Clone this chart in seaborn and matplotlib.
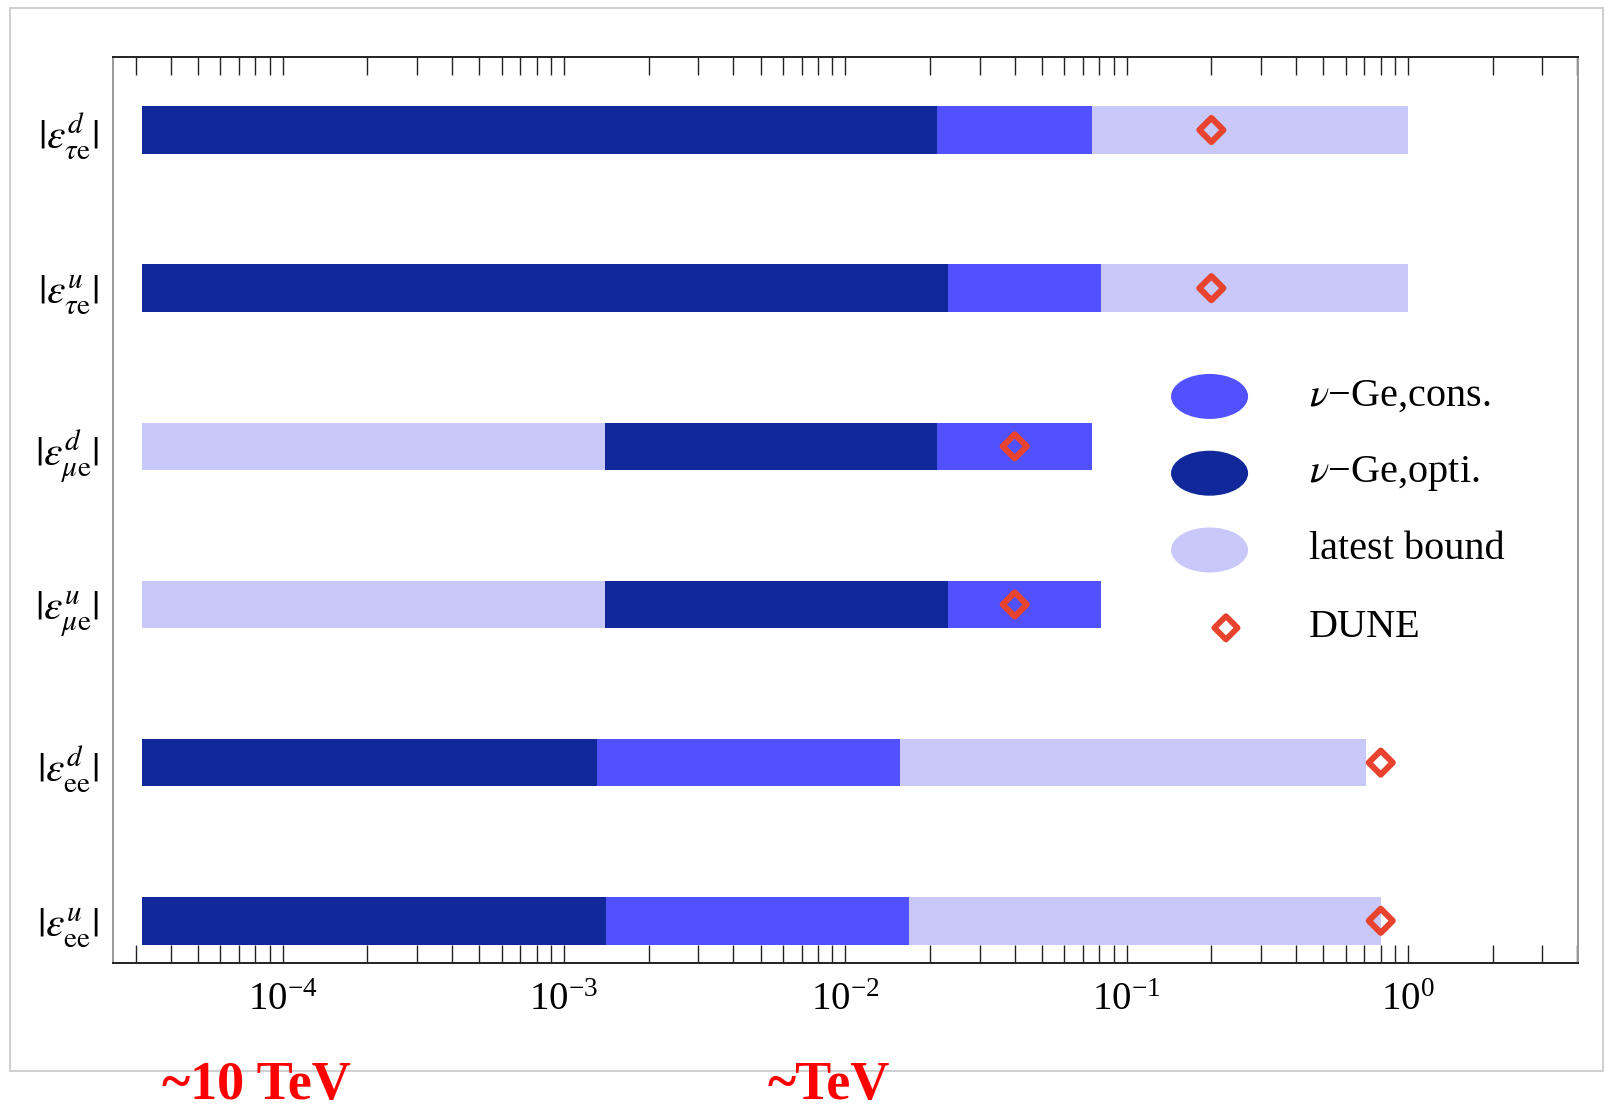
import numpy as np
import pandas as pd
import matplotlib
matplotlib.use("Agg")
import matplotlib.pyplot as plt
import seaborn as sns
from matplotlib.patches import Ellipse, Rectangle
from matplotlib.ticker import LogLocator, NullFormatter, LogFormatterSciNotation

# NSI couplings, listed from the top row to the bottom row
couplings = [
    r"$|\varepsilon^{d}_{\tau\mathrm{e}}|$",
    r"$|\varepsilon^{u}_{\tau\mathrm{e}}|$",
    r"$|\varepsilon^{d}_{\mu\mathrm{e}}|$",
    r"$|\varepsilon^{u}_{\mu\mathrm{e}}|$",
    r"$|\varepsilon^{d}_{\mathrm{ee}}|$",
    r"$|\varepsilon^{u}_{\mathrm{ee}}|$",
]
ge_cons = [0.0752, 0.0811, 0.0752, 0.0811, 0.0156, 0.0168]
ge_opti = [0.0212, 0.0231, 0.0212, 0.0231, 0.00131, 0.00141]
latest_bound = [1.0, 1.0, 0.00140, 0.00140, 0.707, 0.80]
dune = [0.20, 0.20, 0.040, 0.040, 0.80, 0.80]
bar_start = 3.16e-5

series_names = [r"$\nu$" + "\u2212Ge,cons.", r"$\nu$" + "\u2212Ge,opti.", "latest bound"]
series_colors = ["#5151FF", "#10289A", "#C8C8FA"]
dune_color = "#E8432E"

sns.set_theme(style="ticks")
plt.rcParams["font.family"] = ["Liberation Serif", "DejaVu Serif"]
plt.rcParams["mathtext.fontset"] = "stix"
plt.rcParams["text.color"] = "black"
plt.rcParams["xtick.labelcolor"] = "black"
plt.rcParams["ytick.labelcolor"] = "black"

W, H = 1606, 1110
fig = plt.figure(figsize=(W / 100, H / 100), dpi=100)
fig.patch.set_facecolor("white")

# outer panel frame
fig.add_artist(Rectangle((9.6 / W, 1 - 1070.7 / H), (1603 - 9.6) / W, (1070.7 - 7.8) / H,
                         transform=fig.transFigure, fill=False,
                         edgecolor="#cccccc", lw=1.3))

ax_l, ax_r, ax_t, ax_b = 113.3, 1578.3, 57.4, 962.7
ax = fig.add_axes([ax_l / W, 1 - ax_b / H, (ax_r - ax_l) / W, (ax_b - ax_t) / H])
ax.set_facecolor("white")

n = len(couplings)
ypos = np.arange(n)[::-1]  # top row gets the largest y

df = pd.DataFrame({
    "coupling": couplings, "y": ypos,
    "cons": ge_cons, "opti": ge_opti, "latest": latest_bound,
    "DUNE": dune,
})

bar_h = 0.30
for _, row in df.iterrows():
    vals = [(row[s], c) for s, c in zip(["cons", "opti", "latest"], series_colors)]
    # widest segment at the back, narrower ones stacked on top
    for k, (v, c) in enumerate(sorted(vals, key=lambda t: -t[0])):
        ax.barh(row["y"], v - bar_start, left=bar_start, height=bar_h,
                color=c, edgecolor="none", zorder=2 + k)

sns.scatterplot(data=df, x="DUNE", y="y", ax=ax, marker="D", s=150,
                color=dune_color, facecolor="none", edgecolor=dune_color,
                linewidth=4.4, zorder=10, legend=False)

ax.set_xscale("log")
ax.set_xlim(2.5e-5, 4.03)
ax.set_ylim(-0.265, n - 1 + 0.459)

ax.set_yticks(ypos)
ax.set_yticklabels(couplings, fontsize=30)
ax.tick_params(axis="y", length=0, pad=10)

ax.xaxis.set_major_locator(LogLocator(base=10, numticks=20))
ax.xaxis.set_minor_locator(LogLocator(base=10, subs=np.arange(2, 10), numticks=50))
ax.xaxis.set_major_formatter(LogFormatterSciNotation())
ax.xaxis.set_minor_formatter(NullFormatter())
ax.tick_params(axis="x", which="both", direction="in", length=13, width=1.0,
               color="#222222", top=True, bottom=True, labeltop=False)
ax.tick_params(axis="x", which="major", labelsize=28, pad=14)
ax.set_xlabel("")
ax.set_ylabel("")

for side in ("top", "bottom"):
    ax.spines[side].set_color("#222222")
    ax.spines[side].set_linewidth(1.4)
for side in ("left", "right"):
    ax.spines[side].set_color("#999999")
    ax.spines[side].set_linewidth(1.4)

# legend drawn in axes-fraction coordinates
leg_x, txt_x = 0.7483, 0.8162
leg_y = [0.6255, 0.5407, 0.4559, 0.3699]
for name, c, yy in zip(series_names, series_colors, leg_y[:3]):
    ax.add_patch(Ellipse((leg_x, yy), 0.0526, 0.0497, transform=ax.transAxes,
                         facecolor=c, edgecolor="none", zorder=20))
    ax.text(txt_x, yy, name, transform=ax.transAxes, fontsize=29,
            va="center", ha="left", zorder=20)
ax.scatter([leg_x + 0.0112], [leg_y[3]], transform=ax.transAxes, marker="D", s=140,
           facecolor="none", edgecolor=dune_color, linewidth=4.2, zorder=20)
ax.text(txt_x, leg_y[3], "DUNE", transform=ax.transAxes, fontsize=29,
        va="center", ha="left", zorder=20)

# energy-scale annotations under the panel
fig.text(256 / W, 1 - 1086 / H, "~10 TeV", color="red", fontsize=39,
         fontweight="bold", ha="center", va="center")
fig.text(828.6 / W, 1 - 1086 / H, "~TeV", color="red", fontsize=39,
         fontweight="bold", ha="center", va="center")

fig.savefig("out.png", dpi=100, facecolor="white")
